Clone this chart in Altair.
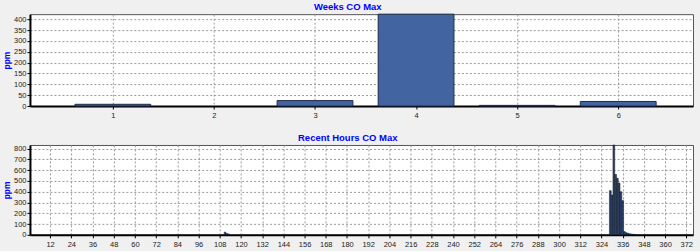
import altair as alt
import pandas as pd

# ---- data ----
weeks = [1, 2, 3, 4, 5, 6]
weeks_max = [8, 0, 25, 423, 3, 21]

hours = [111, 112, 113, 329, 330, 331, 332, 333, 334, 335, 336, 337, 338, 339, 340, 341, 342, 343]
hours_max = [25, 12, 8, 410, 370, 834, 560, 525, 480, 400, 318, 30, 20, 14, 10, 7, 5, 3]

week_ticks = [1, 2, 3, 4, 5, 6]
hour_ticks = [12, 24, 36, 48, 60, 72, 84, 96, 108, 120, 132, 144, 156, 168, 180, 192, 204,
              216, 228, 240, 252, 264, 276, 288, 300, 312, 324, 336, 348, 360, 372]
week_y_ticks = [0, 50, 100, 150, 200, 250, 300, 350, 400]
hour_y_ticks = [0, 100, 200, 300, 400, 500, 600, 700, 800]

FONT = "Liberation Sans"
BLUE = "#0000ff"

wdf = pd.DataFrame({"week": weeks, "ppm": weeks_max})
wdf["x0"] = wdf["week"] - 0.375
wdf["x1"] = wdf["week"] + 0.375

hdf = pd.DataFrame({"hour": hours, "ppm": hours_max})
hdf["x0"] = hdf["hour"] - 0.5
hdf["x1"] = hdf["hour"] + 0.5

def title(t):
    return alt.TitleParams(t, fontSize=9.5, font=FONT, color=BLUE, fontWeight="bold",
                           offset=2, anchor="middle", frame="bounds")

common_axis = dict(labelFont=FONT, labelFontSize=7.5, labelColor="#222",
                   gridColor="#999", gridDash=[2, 2], gridWidth=1,
                   domainColor="#000", domainWidth=2, tickColor="#000", tickSize=3)

yaxis = dict(title="ppm", titleFont=FONT, titleFontSize=8.5, titleColor=BLUE,
             titleFontWeight="bold", titlePadding=2, labelPadding=1, **common_axis)

top = alt.Chart(wdf, title=title("Weeks CO Max")).mark_rect(
    fill="#4264a0", stroke="#1c2c48", strokeWidth=1
).encode(
    x=alt.X("x0:Q", scale=alt.Scale(domain=[0.18, 6.74], nice=False, zero=False),
            axis=alt.Axis(values=week_ticks, title=None, labelPadding=2, **common_axis)),
    x2="x1:Q",
    y=alt.Y("ppm:Q", scale=alt.Scale(domain=[0, 423], nice=False),
            axis=alt.Axis(values=week_y_ticks, **yaxis)),
    y2=alt.datum(0),
).transform_filter("datum.ppm > 0").properties(width=664, height=92)

bottom = alt.Chart(hdf, title=title("Recent Hours CO Max")).mark_rect(
    fill="#2b4470", stroke="#0c1420", strokeWidth=0.5
).encode(
    x=alt.X("x0:Q", scale=alt.Scale(domain=[0.6, 375.8], nice=False, zero=False),
            axis=alt.Axis(values=hour_ticks, title=None, labelPadding=3, **common_axis)),
    x2="x1:Q",
    y=alt.Y("ppm:Q", scale=alt.Scale(domain=[0, 834], nice=False),
            axis=alt.Axis(values=hour_y_ticks, **yaxis)),
    y2=alt.datum(0),
).properties(width=664, height=90)

chart = alt.vconcat(top, bottom, spacing=13).properties(
    background="#f0f0f0",
    padding={"left": 1, "top": 1, "right": 6, "bottom": 2},
).configure_view(fill="white", stroke="#555", strokeWidth=1)

chart.save("out.html", embed_options={"renderer": "svg", "actions": False})
